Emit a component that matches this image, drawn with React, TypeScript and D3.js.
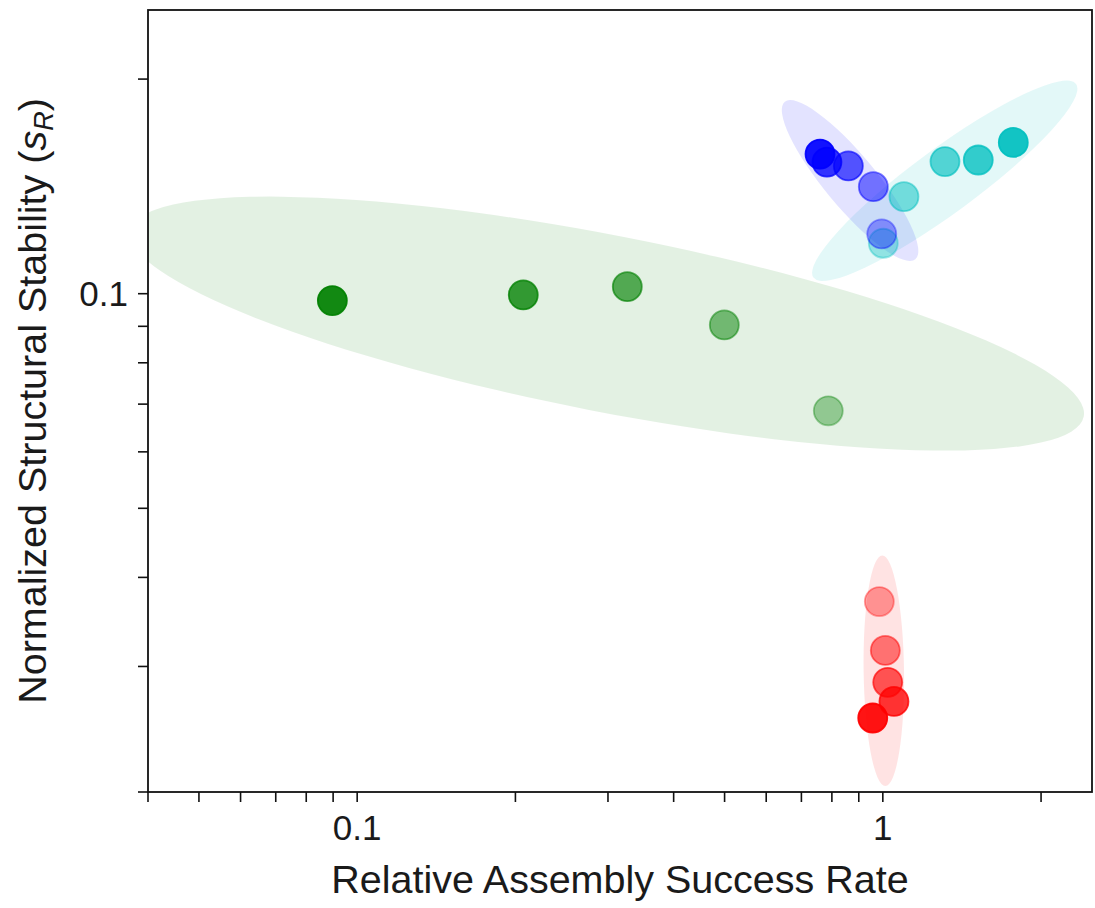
import React from 'react';
import * as d3 from 'd3';

// values (log-log axes)
const greenX = [0.7875, 0.4994, 0.3265, 0.207, 0.0897];
const greenY = [0.0685, 0.0904, 0.1023, 0.0996, 0.0978];
const redX = [0.9848, 1.011, 1.0217, 1.05, 0.9568];
const redY = [0.037, 0.0316, 0.0285, 0.0268, 0.0254];
const cyanX = [1.002, 1.097, 1.313, 1.519, 1.771];
const cyanY = [0.1177, 0.1368, 0.1532, 0.154, 0.163];
const blueX = [0.9952, 0.9592, 0.8598, 0.7829, 0.7595];
const blueY = [0.1213, 0.1413, 0.1511, 0.153, 0.157];
// light -> dark
const pointAlpha = [0.36, 0.5, 0.64, 0.78, 0.92];

const groups = [
  { name: 'green', color: '#008000', xs: greenX, ys: greenY },
  { name: 'red', color: '#ff0000', xs: redX, ys: redY },
  { name: 'cyan', color: '#00bfbf', xs: cyanX, ys: cyanY },
  { name: 'blue', color: '#0000ff', xs: blueX, ys: blueY },
];

const xDomain = [0.04, 2.5];
const yDomain = [0.02, 0.25];

const width = 1095;
const height = 908;
const margin = { top: 10, right: 3, bottom: 116, left: 148 };
const font = '"Liberation Sans", Arial, sans-serif';

// covariance ellipse (n_std) computed from the points in screen space
function confEllipse(pts: [number, number][], nStd: number) {
  const n = pts.length;
  const mx = d3.mean(pts, (p) => p[0]) as number;
  const my = d3.mean(pts, (p) => p[1]) as number;
  let sxx = 0, syy = 0, sxy = 0;
  pts.forEach(([x, y]) => {
    sxx += (x - mx) * (x - mx);
    syy += (y - my) * (y - my);
    sxy += (x - mx) * (y - my);
  });
  sxx /= n - 1; syy /= n - 1; sxy /= n - 1;
  const tr = sxx + syy;
  const det = sxx * syy - sxy * sxy;
  const disc = Math.sqrt(Math.max(tr * tr / 4 - det, 0));
  const l1 = tr / 2 + disc;
  const l2 = Math.max(tr / 2 - disc, 0);
  const angle = (0.5 * Math.atan2(2 * sxy, sxx - syy) * 180) / Math.PI;
  return { cx: mx, cy: my, rx: nStd * Math.sqrt(l1), ry: nStd * Math.sqrt(l2), angle };
}

export default function App() {
  const x0 = margin.left;
  const x1 = width - margin.right;
  const y0 = margin.top;
  const y1 = height - margin.bottom;

  const xScale = d3.scaleLog().domain(xDomain).range([x0, x1]);
  const yScale = d3.scaleLog().domain(yDomain).range([y1, y0]);

  const xTicks = xScale.ticks();
  const yTicks = yScale.ticks();
  const isMajor = (v: number) => Math.abs(Math.log10(v) - Math.round(Math.log10(v))) < 1e-9;
  const fmt = (v: number) => String(+v.toPrecision(3));

  const ellipses = groups.map((g) => ({
    color: g.color,
    ...confEllipse(g.xs.map((x, i) => [xScale(x), yScale(g.ys[i])] as [number, number]), 2.5),
  }));

  return (
    <svg
      width={width}
      height={height}
      style={{ position: 'absolute', left: 0, top: 0, background: '#fff' }}
      fontFamily={font}
    >
      <defs>
        <clipPath id="plot-clip">
          <rect x={x0} y={y0} width={x1 - x0} height={y1 - y0} />
        </clipPath>
      </defs>

      <g clipPath="url(#plot-clip)">
        {ellipses.map((e, i) => (
          <ellipse
            key={i}
            cx={e.cx}
            cy={e.cy}
            rx={e.rx}
            ry={e.ry}
            transform={`rotate(${e.angle} ${e.cx} ${e.cy})`}
            fill={e.color}
            fillOpacity={0.11}
          />
        ))}
        {groups.map((g) =>
          g.xs.map((x, i) => (
            <circle
              key={g.name + i}
              cx={xScale(x)}
              cy={yScale(g.ys[i])}
              r={14.5}
              fill={g.color}
              fillOpacity={pointAlpha[i]}
              stroke={g.color}
              strokeOpacity={pointAlpha[i]}
              strokeWidth={1.8}
            />
          ))
        )}
      </g>

      {/* ticks */}
      {xTicks.map((t) => (
        <g key={'x' + t}>
          <line x1={xScale(t)} x2={xScale(t)} y1={y1} y2={y1 + 10} stroke="#111" strokeWidth={1.6} />
          {isMajor(t) && (
            <text x={xScale(t)} y={y1 + 48} textAnchor="middle" fontSize={35} fill="#1a1a1a">
              {fmt(t)}
            </text>
          )}
        </g>
      ))}
      {yTicks.map((t) => (
        <g key={'y' + t}>
          <line x1={x0 - 10} x2={x0} y1={yScale(t)} y2={yScale(t)} stroke="#111" strokeWidth={1.6} />
          {isMajor(t) && (
            <text x={x0 - 20} y={yScale(t)} dy="0.36em" textAnchor="end" fontSize={35} fill="#1a1a1a">
              {fmt(t)}
            </text>
          )}
        </g>
      ))}

      {/* frame */}
      <rect x={x0} y={y0} width={x1 - x0} height={y1 - y0} fill="none" stroke="#111" strokeWidth={1.8} />

      {/* axis labels */}
      <text x={(x0 + x1) / 2} y={y1 + 101} textAnchor="middle" fontSize={39.5} fill="#1a1a1a">
        Relative Assembly Success Rate
      </text>
      <text
        transform={`translate(46,${(y0 + y1) / 2}) rotate(-90)`}
        textAnchor="middle"
        fontSize={39.5}
        fill="#1a1a1a"
      >
        Normalized Structural Stability (<tspan fontStyle="italic">s</tspan>
        <tspan fontStyle="italic" fontSize={27} dy={7}>R</tspan>
        <tspan dy={-7}>)</tspan>
      </text>
    </svg>
  );
}
